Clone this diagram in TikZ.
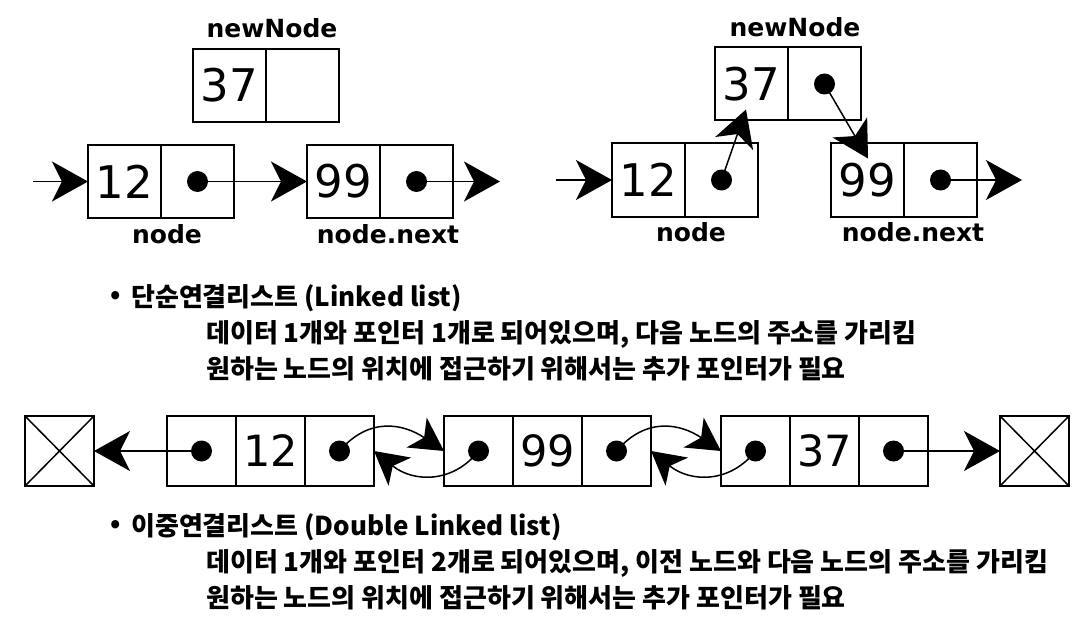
\documentclass[tikz,border=0pt]{standalone}
\usepackage{fontspec}
\setmainfont{DejaVu Sans}
\newfontfamily\kofont{Noto Sans CJK KR}
\usepackage{tikz}
\usetikzlibrary{positioning}
\usetikzlibrary{calc}
\usetikzlibrary{arrows.meta}
\tikzset{
  list/.style={
    cell/.style={draw, line width=2pt, minimum width=73pt, minimum height=73pt,
      inner sep=0pt, outer sep=0pt, font={\fontsize{45}{50}\selectfont}},
    small cell/.style={cell, minimum width=69pt, minimum height=70pt,
      font={\fontsize{43}{48}\selectfont}},
    nil box/.style={small cell, path picture={
        \draw[line width=1.5pt]
          (path picture bounding box.north west) -- (path picture bounding box.south east)
          (path picture bounding box.north east) -- (path picture bounding box.south west);
      }},
    pointer/.style={circle, fill=black, minimum size=21pt, inner sep=0pt},
    link/.style={line width=1.5pt, -{Stealth[length=36pt, width=40pt, inset=10pt]}},
    back link/.style={line width=1.5pt, -{Stealth[length=33pt, width=36pt, inset=9pt]}},
    var label/.style={font={\fontsize{25}{30}\selectfont\bfseries}, anchor=base},
    note/.style={font={\kofont\bfseries\fontsize{26}{30}\selectfont}, anchor=west, inner sep=0pt},
    bullet/.style={note, anchor=center}
  }
}

\begin{document}
\begin{tikzpicture}[x=1pt, y=-1pt, list]
    \useasboundingbox (0,0) rectangle (1091,631);

    % singly linked list, before insert
    \node[cell] (newL) at (229.5,85.5) {37};
    \node[cell, right=0pt of newL] (newLp) {};
    \node[cell] (aL) at (124.5,181.5) {12};
    \node[cell, right=0pt of aL] (aLp) {};
    \node[cell] (bL) at (343.5,181.5) {99};
    \node[cell, right=0pt of bL] (bLp) {};
    \node[pointer] (aLd) at (aLp) {};
    \node[pointer] (bLd) at (bLp) {};
    \coordinate (inL) at (33,181.5);
    \coordinate (outL) at (500,181.5);
    \draw[link] (inL) -- (aL);
    \draw[link] (aLd.center) -- (bL);
    \draw[link] (bLd.center) -- (outL);
    \node[var label] (newLlbl) at (272,38) {newNode};
    \node[var label] (aLlbl) at (167,243) {node};
    \node[var label] (bLlbl) at (388,243) {node.next};

    % singly linked list, after insert
    \node[cell] (newR) at (751.5,84) {37};
    \node[cell, right=0pt of newR] (newRp) {};
    \node[cell] (aR) at (648.5,180) {12};
    \node[cell, right=0pt of aR] (aRp) {};
    \node[cell] (bR) at (867.5,180) {99};
    \node[cell, right=0pt of bR] (bRp) {};
    \node[pointer] (newRd) at (newRp) {};
    \node[pointer] (aRd) at (aRp) {};
    \node[pointer] (bRd) at (bRp) {};
    \coordinate (inR) at (556,180);
    \coordinate (outR) at (1022,180);
    \coordinate (hitNew) at ($(newR.south)+(-5.5,-11)$);
    \coordinate (hitB) at ($(bR.north)+(0.5,15)$);
    \draw[link] (inR) -- (aR);
    \draw[link] (aRd.center) -- (hitNew);
    \draw[link] (newRd.center) -- (hitB);
    \draw[link] (bRd.center) -- (outR);
    \node[var label] (newRlbl) at (795,37) {newNode};
    \node[var label] (aRlbl) at (691,241) {node};
    \node[var label] (bRlbl) at (913,241) {node.next};

    \node[bullet] (dotA) at (116,297) {•};
    \node[note] (titleA) at (131,298) {단순연결리스트 (Linked list)};
    \node[note] (lineA1) at (206,334) {데이터 1개와 포인터 1개로 되어있으며, 다음 노드의 주소를 가리킴};
    \node[note] (lineA2) at (206,369) {원하는 노드의 위치에 접근하기 위해서는 추가 포인터가 필요};

    % double linked list
    \node[nil box] (nilL) at (59.5,451) {};
    \node[nil box] (nilR) at (1034.5,451) {};
    \foreach \name/\x/\val in {p/201.5/12, q/478.5/99, r/755.5/37}{
        \node[small cell] (\name-l) at (\x,451) {};
        \node[small cell, right=0pt of \name-l] (\name) {\val};
        \node[small cell, right=0pt of \name] (\name-r) {};
        \node[pointer] (\name-ld) at (\name-l) {};
        \node[pointer] (\name-rd) at (\name-r) {};
    }
    \draw[link] (p-ld.center) -- (nilL);
    \draw[link] (r-rd.center) -- (nilR);
    \foreach \a/\b in {p/q, q/r}{
        \draw[back link] (\a-rd.center) .. controls +(30,-35) and +(-40,-27) .. (\b-l.west);
        \draw[back link] (\b-ld.center) .. controls +(-25,32) and +(40,32) .. (\a-r.east);
    }

    \node[bullet] (dotB) at (116,526) {•};
    \node[note] (titleB) at (131,527) {이중연결리스트 (Double Linked list)};
    \node[note] (lineB1) at (206,563) {데이터 1개와 포인터 2개로 되어있으며, 이전 노드와 다음 노드의 주소를 가리킴};
    \node[note] (lineB2) at (206,598) {원하는 노드의 위치에 접근하기 위해서는 추가 포인터가 필요};
\end{tikzpicture}
\end{document}
